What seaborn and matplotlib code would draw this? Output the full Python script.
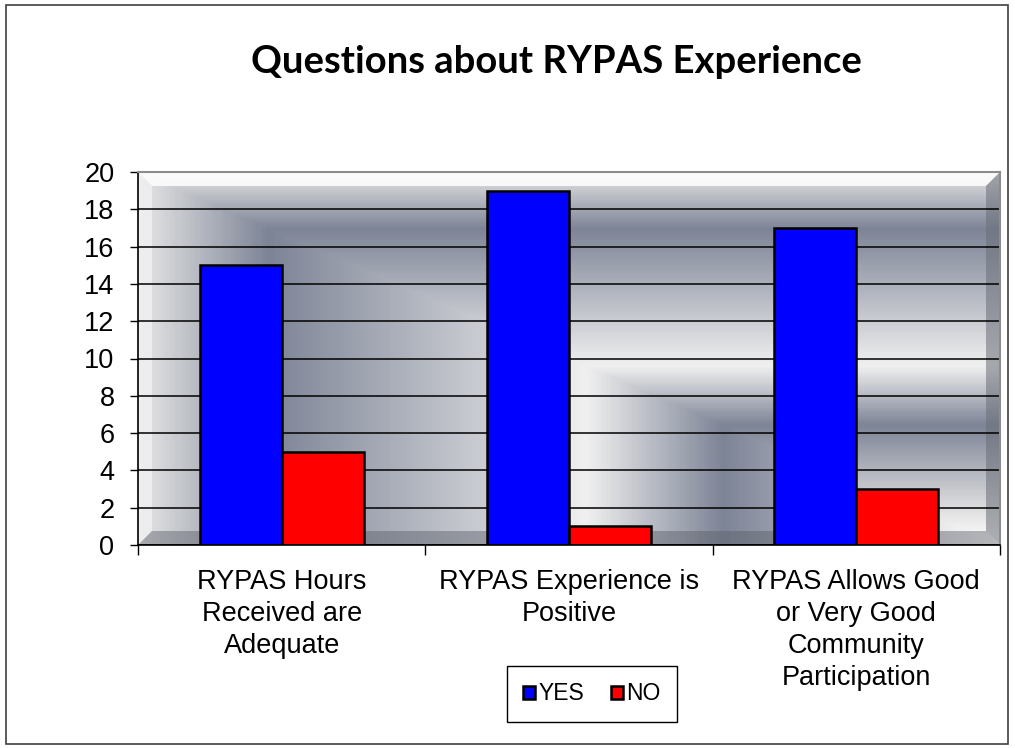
import numpy as np
import pandas as pd
import matplotlib.pyplot as plt
import seaborn as sns
from matplotlib.colors import LinearSegmentedColormap
from matplotlib.patches import Polygon, Rectangle

# Dane
kategorie = ['RYPAS Hours\nReceived are\nAdequate',
             'RYPAS Experience is\nPositive',
             'RYPAS Allows Good\nor Very Good\nCommunity\nParticipation']
tak = [15, 19, 17]
nie = [5, 1, 3]
odpowiedzi = ['YES', 'NO']
kolory = {'YES': '#0000FF', 'NO': '#FF0000'}
y_ticks = list(range(0, 21, 2))

df = pd.DataFrame({
    'Pytanie': kategorie * 2,
    'Odpowiedz': ['YES'] * 3 + ['NO'] * 3,
    'Liczba': tak + nie,
})

plt.rcParams['font.family'] = ['Liberation Sans', 'DejaVu Sans']

fig = plt.figure(figsize=(10.15, 7.48), dpi=100)
ax = fig.add_axes([138 / 1015, 1 - 545 / 748, 862 / 1015, 373 / 748])

# tlo "Silver" - gradient od prawego dolnego rogu
u = np.linspace(0, 1, 600)
v = np.linspace(0, 1, 300)
U, V = np.meshgrid(u, v)
d = np.maximum(1 - U, V)
stopy = [(0.0, '#ffffff'), (0.075, '#e6e6e6'), (0.32, '#7d8496'),
         (0.48, '#f0f0f0'), (0.85, '#7d8496'), (1.0, '#e6e6e6')]
cmap = LinearSegmentedColormap.from_list('silver', stopy)
ax.imshow(d, cmap=cmap, vmin=0, vmax=1, origin='lower', aspect='auto',
          extent=[-0.5, 2.5, 0, 20], zorder=0, interpolation='bilinear')

# efekt fazowania ramki
bx, by = 14 / 862, 14 / 373
fazy = [
    ([(0, 1), (1, 1), (1 - bx, 1 - by), (bx, 1 - by)], '#ffffff', 0.85),
    ([(0, 0), (0, 1), (bx, 1 - by), (bx, by)], '#f2f2f4', 0.7),
    ([(1, 0), (1, 1), (1 - bx, 1 - by), (1 - bx, by)], '#6a6e78', 0.55),
    ([(0, 0), (1, 0), (1 - bx, by), (bx, by)], '#5a5e68', 0.45),
]
for pts, kol, a in fazy:
    ax.add_patch(Polygon(pts, closed=True, transform=ax.transAxes,
                         facecolor=kol, edgecolor='none', alpha=a, zorder=0.3))

sns.barplot(data=df, x='Pytanie', y='Liczba', hue='Odpowiedz', hue_order=odpowiedzi,
            palette=kolory, edgecolor='black', linewidth=1.8, width=0.57,
            saturation=1, ax=ax, zorder=2)

ax.set_xlim(-0.5, 2.5)
ax.set_ylim(0, 20)
ax.set_yticks(y_ticks)
ax.set_axisbelow(True)
ax.yaxis.grid(True, color='black', linewidth=1.1)
ax.xaxis.grid(False)
ax.set_xlabel('')
ax.set_ylabel('')

ax.set_xticks([0, 1, 2])
ax.set_xticklabels(kategorie, fontsize=19.5, linespacing=1.3)
ax.set_xticks([-0.5, 0.5, 1.5, 2.5], minor=True)
ax.tick_params(axis='x', which='major', length=0, pad=17)
ax.tick_params(axis='x', which='minor', length=7, width=1, color='black')
ax.tick_params(axis='y', length=6, width=1, color='black', pad=11, labelsize=19.5)

for s in ['left', 'bottom']:
    ax.spines[s].set_color('black')
    ax.spines[s].set_linewidth(1.2)
for s in ['top', 'right']:
    ax.spines[s].set_color('#8c8c8c')
    ax.spines[s].set_linewidth(1.5)

uchwyty, etykiety = ax.get_legend_handles_labels()
ax.get_legend().remove()
fig.legend(uchwyty, etykiety, loc='center', bbox_to_anchor=(592 / 1015, 1 - 694 / 748),
           ncol=2, frameon=True, fancybox=False, edgecolor='black', framealpha=1,
           handlelength=0.5, handleheight=0.5, handletextpad=0.15, columnspacing=1.2,
           borderpad=0.7, fontsize=16.5)

fig.text(556 / 1015, 1 - 62 / 748, 'Questions about RYPAS Experience',
         ha='center', va='center', fontsize=27.5, fontweight='bold', family=['Lato', 'DejaVu Sans'])

# zewnetrzna ramka wykresu
fig.patches.append(Rectangle((6 / 1015, 4 / 748), 1002 / 1015, 739 / 748,
                             transform=fig.transFigure, fill=False,
                             edgecolor='#404040', linewidth=1.2))

fig.savefig('out.png', dpi=100)
